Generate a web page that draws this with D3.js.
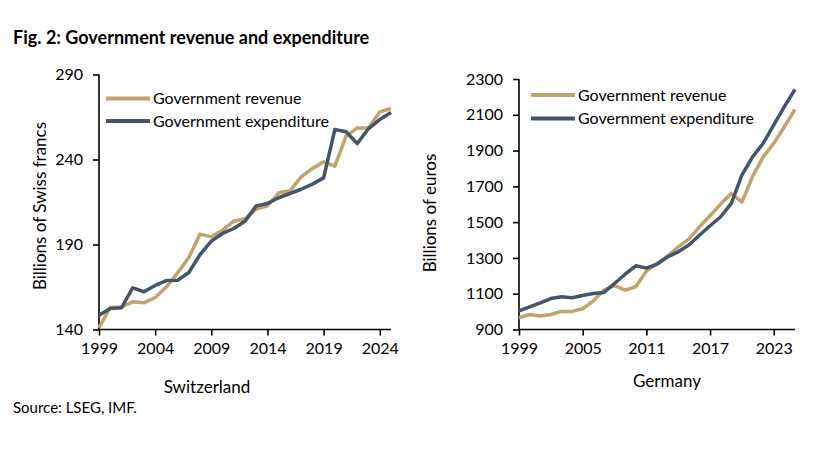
<!DOCTYPE html>
<html><head><meta charset="utf-8">
<script src="https://cdn.jsdelivr.net/npm/d3@7"></script>
<style>
body{margin:0;background:#fff;}
svg{display:block;font-family:Lato,"Open Sans",sans-serif;}
</style></head>
<body><svg id="c" width="813" height="459"></svg>
<script>
const years = d3.range(1999, 2026);
const chRevenue = [141,153,153.3,156.3,155.7,158.8,165,173.3,182.4,196.1,194.5,198.4,203.7,205.1,210.8,212.7,220.4,221.6,229.8,234.7,238.6,236.1,253.7,258.6,258.6,268,270];
const chExpenditure = [148.4,152.4,152.8,164.5,162.2,165.9,168.8,169,173.5,184.1,192,196.5,199.4,203.7,212.7,214.1,217.5,220,222.5,225.5,229.2,257.6,256.3,249.4,258.2,263.5,267.6];
const deRevenue = [965,984,976,984,1001,1001,1016,1060,1120,1146,1120,1139,1226,1269,1310,1362,1405,1474,1536,1601,1660,1612,1754,1865,1940,2033,2130];
const deExpenditure = [1004,1027,1049,1073,1083,1077,1090,1101,1107,1157,1209,1256,1243,1265,1306,1334,1372,1427,1480,1530,1605,1763,1865,1940,2043,2145,2242];
const chYTicks = [140,190,240,290];
const deYTicks = [900,1100,1300,1500,1700,1900,2100,2300];
const chXTicks = [1999,2004,2009,2014,2019,2024];
const deXTicks = [1999,2005,2011,2017,2023];
const seriesNames = ["Government revenue","Government expenditure"];
const colors = ["#BFA46E","#44546A"];

const svg = d3.select("#c");
svg.append("text").attr("x",13).attr("y",44).attr("font-weight","bold").attr("font-size",18).attr("fill","#000")
  .text("Fig. 2: Government revenue and expenditure");
svg.append("text").attr("x",13).attr("y",413).attr("font-size",15).attr("fill","#000").text("Source: LSEG, IMF.");

function panel(o){
  const x = d3.scaleLinear().domain([1999,2025]).range([o.x0,o.x1]);
  const y = d3.scaleLinear().domain(o.ydom).range([o.y1,o.y0]);
  const g = svg.append("g");
  const ya = g.append("g").attr("transform",`translate(${o.x0},0)`)
    .call(d3.axisLeft(y).tickValues(o.yticks).tickSize(6).tickPadding(10).tickFormat(d3.format("d")));
  const xa = g.append("g").attr("transform",`translate(0,${o.y1})`)
    .call(d3.axisBottom(x).tickValues(o.xticks).tickSize(6).tickPadding(7).tickFormat(d3.format("d")));
  [ya,xa].forEach(a=>{
    a.select(".domain").attr("stroke","#000").attr("stroke-width",1.6);
    a.selectAll(".tick line").attr("stroke","#000").attr("stroke-width",1.6);
    a.selectAll("text").attr("font-size",16).attr("fill","#000").attr("font-family","Lato");
  });
  ya.select(".domain").attr("d",`M0,${o.y0}V${o.y1}`);
  xa.select(".domain").attr("d",`M${o.x0},0H${o.x1}`);
  const line = d3.line().x((d,i)=>x(years[i])).y(d=>y(d));
  [o.rev,o.exp].forEach((s,k)=>{
    g.append("path").datum(s).attr("d",line).attr("fill","none").attr("stroke",colors[k])
      .attr("stroke-width",3.5).attr("stroke-linejoin","round");
  });
  seriesNames.forEach((n,k)=>{
    const ly = o.legY + k*o.legDy;
    g.append("line").attr("x1",o.legX).attr("x2",o.legX+44).attr("y1",ly).attr("y2",ly)
      .attr("stroke",colors[k]).attr("stroke-width",4);
    g.append("text").attr("x",o.legX+47).attr("y",ly).attr("dy","0.35em").attr("font-size",16).attr("fill","#000").text(n);
  });
  g.append("text").attr("transform",`translate(${o.ytx},${o.yty}) rotate(-90)`).attr("text-anchor","middle")
    .attr("font-size",17).attr("fill","#000").text(o.ytitle);
  g.append("text").attr("x",o.xtx).attr("y",o.xty).attr("text-anchor","middle")
    .attr("font-size",17).attr("fill","#000").text(o.xtitle);
}

panel({x0:99,x1:391,y0:74.5,y1:329.5,ydom:[140,290],yticks:chYTicks,xticks:chXTicks,rev:chRevenue,exp:chExpenditure,
  legX:106,legY:98.5,legDy:22.5,ytx:46,yty:206,ytitle:"Billions of Swiss francs",xtx:207,xty:393,xtitle:"Switzerland"});
panel({x0:519,x1:795,y0:79,y1:329.5,ydom:[900,2300],yticks:deYTicks,xticks:deXTicks,rev:deRevenue,exp:deExpenditure,
  legX:531,legY:95,legDy:23.5,ytx:436,yty:213,ytitle:"Billions of euros",xtx:667,xty:387,xtitle:"Germany"});
</script></body></html>
